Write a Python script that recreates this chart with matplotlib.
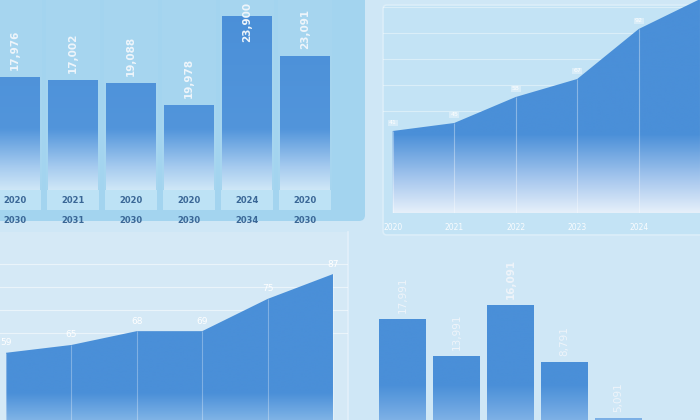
import numpy as np
import matplotlib
matplotlib.use("Agg")
import matplotlib.pyplot as plt
from matplotlib.colors import LinearSegmentedColormap
from matplotlib.patches import Rectangle, FancyBboxPatch
from matplotlib.transforms import blended_transform_factory

# --- data ---
tl_years = ["2020", "2021", "2020", "2020", "2024", "2020"]
tl_years2 = ["2030", "2031", "2030", "2030", "2034", "2030"]
tl_values = [17000, 16500, 16050, 12750, 26100, 20100]
tl_labels = ["17,976", "17,002", "19,088", "19,978", "23,900", "23,091"]

tr_years = ["2020", "2021", "2022", "2023", "2024"]
tr_values = [41, 45, 58, 67, 92, 107]

bl_values = [63.3, 65, 68, 68, 75, 80.4]
bl_labels = ["59", "65", "68", "69", "75", "87"]

br_values = [14100, 10400, 15500, 9800, 4200]
br_labels = ["17,991", "13,991", "16,091", "8,791", "5,091"]

W, H = 700, 420
BLUE = "#4a8fd8"

fig = plt.figure(figsize=(7, 4.2), dpi=100)
fig.patch.set_facecolor("#cfe7f6")


def px_axes(x0, y0, x1, y1, z=1):
    ax = fig.add_axes([x0 / W, 1 - y1 / H, (x1 - x0) / W, (y1 - y0) / H], zorder=z)
    ax.patch.set_alpha(0)
    for s in ax.spines.values():
        s.set_visible(False)
    ax.tick_params(left=False, bottom=False, labelleft=False, labelbottom=False)
    return ax


def grad_cmap(stops):
    return LinearSegmentedColormap.from_list("g", stops)


def fill_gradient(ax, clip_path, clip_tr, cmap):
    g = np.linspace(0, 1, 256).reshape(-1, 1)
    im = ax.imshow(g, cmap=cmap, extent=[0, 1, 0, 1], transform=ax.transAxes,
                   origin="lower", aspect="auto", zorder=2, interpolation="bicubic")
    im.set_clip_path(clip_path, clip_tr)
    return im


# background panels
bg = fig.add_axes([0, 0, 1, 1], zorder=0)
bg.set_xlim(0, W)
bg.set_ylim(H, 0)
bg.axis("off")
bg.add_patch(FancyBboxPatch((-20, -20), 385, 241, boxstyle="round,pad=0,rounding_size=6",
                            fc="#a3d4ef", ec="none"))
bg.add_patch(FancyBboxPatch((383, 5), 330, 230, boxstyle="round,pad=0,rounding_size=4",
                            fc="#c3e3f5", ec="#dceef9", lw=1.2))
bg.add_patch(Rectangle((0, 232), 348, 200, fc="#d5e9f6", ec="none"))
bg.plot([348, 348], [232, 420], color="#e3f0fa", lw=1.2)

# ---- top left: bars ----
ax1 = px_axes(0, 0, 365, 190, z=2)
x1 = np.arange(len(tl_values))
bars = ax1.bar(x1, tl_values, width=0.862, color="none", zorder=3)
ax1.set_xlim(-15 / 58, 350 / 58)
ax1.set_ylim(0, 28500)
cm1 = grad_cmap([(0, "#cfe7f7"), (0.12, "#a6cbef"), (0.32, "#5295db"), (1, BLUE)])
tb = blended_transform_factory(ax1.transData, ax1.transAxes)
for b in bars:
    fill_gradient(ax1, b, None, cm1)
    ax1.add_patch(Rectangle((b.get_x() - 0.04, 0), b.get_width() + 0.08, 1, transform=tb,
                            fc="white", alpha=0.04, ec="none", zorder=1))
for i, (v, lab) in enumerate(zip(tl_values, tl_labels)):
    inside = v > 0.85 * 28500
    ax1.annotate(lab, (i, v), xytext=(0, 10 if inside else 5), textcoords="offset points",
                 rotation=90, ha="center", va="top" if inside else "bottom",
                 color="#eef5fb", fontsize=7.5, fontweight="semibold", zorder=5)
for i, (y1, y2) in enumerate(zip(tl_years, tl_years2)):
    ax1.add_patch(Rectangle((i - 0.45, -0.105), 0.9, 0.105, transform=tb, fc="#bde2f5",
                            ec="none", clip_on=False, zorder=1))
    ax1.text(i, -0.053, y1, transform=tb, ha="center", va="center", fontsize=6,
             fontweight="bold", color="#3a6796")
    ax1.text(i, -0.158, y2, transform=tb, ha="center", va="center", fontsize=6,
             fontweight="bold", color="#3a6796")

# ---- top right: area ----
ax2 = px_axes(383, -40, 710, 213, z=2)
x2 = np.arange(len(tr_values))
ax2.set_xlim((383 - 392.7) / 61.5, (710 - 392.7) / 61.5)
ax2.set_ylim(0, 126.5)
ax2.set_yticks([51, 64, 77, 90, 103])
ax2.grid(axis="y", color="white", alpha=0.4, lw=0.8)
ax2.set_axisbelow(True)
poly = ax2.fill_between(x2, tr_values, 0, color="none", lw=0)
cm2 = grad_cmap([(0, "#e6f0fa"), (0.13, "#a8c8ee"), (0.31, BLUE), (1, BLUE)])
fill_gradient(ax2, poly.get_paths()[0], ax2.transData, cm2)
ax2.vlines(x2, 0, tr_values, color="white", alpha=0.35, lw=0.8, zorder=3)
tb2 = blended_transform_factory(ax2.transData, ax2.transAxes)
for i, (y, v) in enumerate(zip(tr_years, tr_values)):
    ax2.annotate(str(v), (i, v), xytext=(0, 4), textcoords="offset points", ha="center",
                 va="bottom", fontsize=4.5, color="white", zorder=5,
                 bbox=dict(boxstyle="square,pad=0.15", fc="white", ec="none", alpha=0.35))
    ax2.text(i, -14 / 253, y, transform=tb2, ha="center", va="center", fontsize=5.5,
             color="white", alpha=0.9)

# ---- bottom left: area ----
ax3 = px_axes(0, 240, 348, 420, z=2)
x3 = np.arange(len(bl_values))
ax3.set_xlim(-6 / 65.4, 342 / 65.4)
ax3.set_ylim(48.7, 87.8)
ax3.set_yticks([67.5, 72.5, 77.5, 82.5])
ax3.grid(axis="y", color="white", alpha=0.5, lw=0.8)
ax3.set_axisbelow(True)
poly3 = ax3.fill_between(x3, bl_values, 48.7, color="none", lw=0)
cm3 = grad_cmap([(0, "#7fb3e6"), (0.15, BLUE), (1, BLUE)])
fill_gradient(ax3, poly3.get_paths()[0], ax3.transData, cm3)
ax3.vlines(x3, 48.7, bl_values, color="white", alpha=0.3, lw=0.8, zorder=3)
for i, (v, lab) in enumerate(zip(bl_values, bl_labels)):
    ax3.annotate(lab, (i, v), xytext=(0, 4), textcoords="offset points", ha="center",
                 va="bottom", fontsize=6.5, color="white", zorder=5)

# ---- bottom right: bars ----
ax4 = px_axes(360, 240, 700, 460, z=2)
x4 = np.arange(len(br_values))
bars4 = ax4.bar(x4, br_values, width=0.87, color="none", zorder=3)
ax4.set_xlim((360 - 402.5) / 54, (700 - 402.5) / 54)
ax4.set_ylim(0, 22000)
cm4 = grad_cmap([(0, "#9cc4ee"), (0.18, "#7eb1e6"), (0.34, BLUE), (1, BLUE)])
for b in bars4:
    fill_gradient(ax4, b, None, cm4)
for i, (v, lab) in enumerate(zip(br_values, br_labels)):
    ax4.annotate(lab, (i, v), xytext=(0, 4), textcoords="offset points", rotation=90,
                 ha="center", va="bottom", fontsize=7.5, color="#eef4fa",
                 fontweight="bold" if i == 2 else "normal", zorder=5)

fig.savefig("out.png", dpi=100)
